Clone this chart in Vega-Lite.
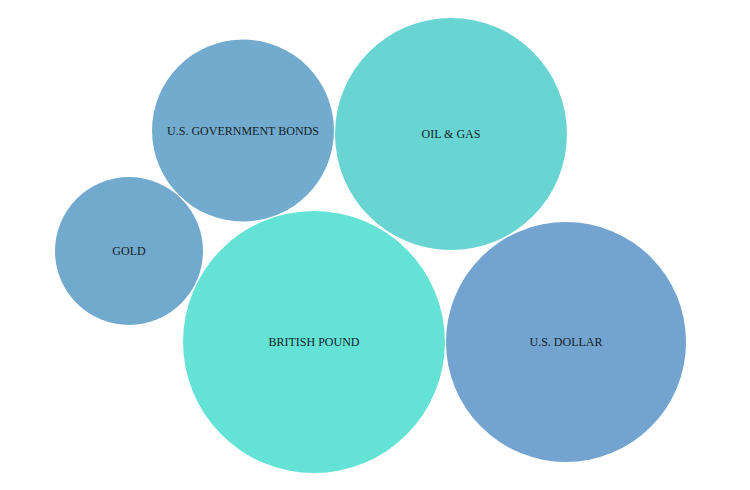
{
  "$schema": "https://vega.github.io/schema/vega-lite/v6.json",
  "width": 750,
  "height": 490,
  "padding": 0,
  "autosize": {"type": "none"},
  "background": "white",
  "config": {"view": {"stroke": null}},
  "data": {"values": [
    {"name": "U.S. GOVERNMENT BONDS", "x": 243, "y": 130.5, "value": 33.1},
    {"name": "OIL & GAS", "x": 451, "y": 134, "value": 53.8},
    {"name": "GOLD", "x": 129, "y": 251, "value": 21.9},
    {"name": "BRITISH POUND", "x": 314, "y": 342, "value": 68.6},
    {"name": "U.S. DOLLAR", "x": 566, "y": 342, "value": 57.6}
  ]},
  "encoding": {
    "x": {"field": "x", "type": "quantitative", "scale": {"domain": [0, 750], "nice": false, "zero": false}, "axis": null},
    "y": {"field": "y", "type": "quantitative", "scale": {"domain": [0, 490], "reverse": true, "nice": false, "zero": false}, "axis": null}
  },
  "layer": [
    {
      "mark": {"type": "circle", "opacity": 1},
      "encoding": {
        "size": {"field": "value", "type": "quantitative", "scale": {"type": "linear", "domain": [0, 100], "range": [0, 100000], "zero": true}, "legend": null},
        "color": {"field": "name", "type": "nominal", "legend": null,
          "scale": {"domain": ["U.S. GOVERNMENT BONDS", "OIL & GAS", "GOLD", "BRITISH POUND", "U.S. DOLLAR"],
                    "range": ["#72abcd", "#68d5d3", "#72aacd", "#64e2d6", "#73a4cf"]}}
      }
    },
    {
      "mark": {"type": "text", "font": "Liberation Serif", "fontSize": 12, "color": "#15222a", "align": "center", "baseline": "middle"},
      "encoding": {"text": {"field": "name", "type": "nominal"}}
    }
  ]
}
